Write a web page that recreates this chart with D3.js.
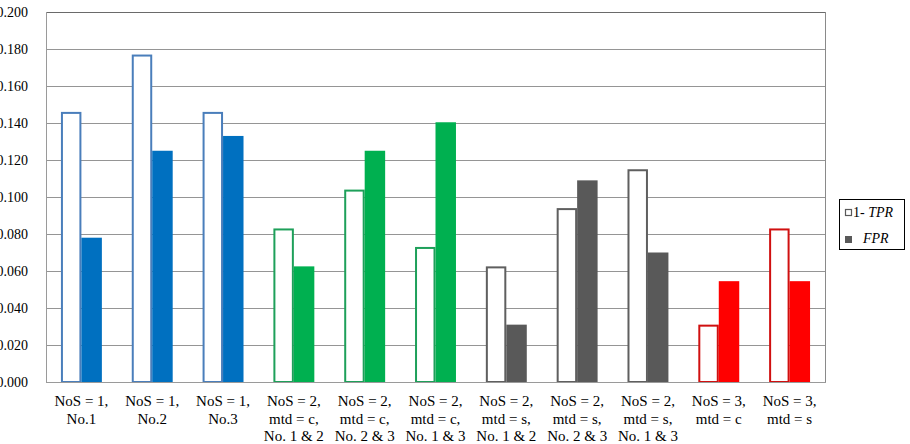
<!DOCTYPE html>
<html><head><meta charset="utf-8">
<script src="https://cdn.jsdelivr.net/npm/d3@7"></script>
<style>body{margin:0;background:#fff;} svg{display:block;} svg text{font-family:"Liberation Serif","DejaVu Serif",serif;}</style>
</head><body>
<svg id="chart" width="910" height="444"></svg>
<script>
const categories = [
  ["NoS = 1,", "No.1"],
  ["NoS = 1,", "No.2"],
  ["NoS = 1,", "No.3"],
  ["NoS = 2,", "mtd = c,", "No. 1 & 2"],
  ["NoS = 2,", "mtd = c,", "No. 2 & 3"],
  ["NoS = 2,", "mtd = c,", "No. 1 & 3"],
  ["NoS = 2,", "mtd = s,", "No. 1 & 2"],
  ["NoS = 2,", "mtd = s,", "No. 2 & 3"],
  ["NoS = 2,", "mtd = s,", "No. 1 & 3"],
  ["NoS = 3,", "mtd = c"],
  ["NoS = 3,", "mtd = s"]
];
const oneMinusTPR = [0.146, 0.177, 0.146, 0.083, 0.104, 0.073, 0.0625, 0.094, 0.115, 0.031, 0.083];
const FPR = [0.078, 0.125, 0.133, 0.0625, 0.125, 0.1404, 0.031, 0.109, 0.070, 0.0545, 0.0545];
const groupColors = ["#0070C0","#0070C0","#0070C0","#00B050","#00B050","#00B050","#595959","#595959","#595959","#FF0000","#FF0000"];
const outlineColors = ["#4A7EBB","#4A7EBB","#4A7EBB","#1EA05A","#1EA05A","#1EA05A","#5F5F5F","#5F5F5F","#5F5F5F","#D01010","#D01010"];
const yTicks = [0, 0.02, 0.04, 0.06, 0.08, 0.10, 0.12, 0.14, 0.16, 0.18, 0.20];
const seriesNames = ["1-TPR", "FPR"];

(function () {
const svg = d3.select("#chart");
const pL = 46, pR = 825, pT = 12, pB = 382;
const idx = d3.range(categories.length);
const x0 = d3.scaleBand().domain(idx).range([pL, pR]).padding(0);
const x1 = d3.scaleBand().domain(seriesNames).range([0, x0.bandwidth()]).paddingInner(0).paddingOuter(0.73);
const y = d3.scaleLinear().domain([0, 0.2]).range([pB, pT]);

// gridlines
svg.append("g").selectAll("line").data(yTicks.filter(d => d > 0)).join("line")
  .attr("x1", pL).attr("x2", pR)
  .attr("y1", d => Math.round(y(d)) + 0.5).attr("y2", d => Math.round(y(d)) + 0.5)
  .attr("stroke", d => d === 0.2 ? "#6a6a6a" : "#959595").attr("stroke-width", 1);

// frame
svg.append("line").attr("x1", pL + 0.5).attr("x2", pL + 0.5).attr("y1", pT).attr("y2", pB + 0.5).attr("stroke", "#9a9a9a");
svg.append("line").attr("x1", pR + 0.5).attr("x2", pR + 0.5).attr("y1", pT).attr("y2", pB + 0.5).attr("stroke", "#8a8a8a");

// y axis labels
const yAxis = d3.axisLeft(y).tickValues(yTicks).tickFormat(d3.format(".3f")).tickSize(0).tickPadding(18);
const ya = svg.append("g").attr("transform", `translate(${pL},0)`).call(yAxis);
ya.attr("font-family", null).attr("font-size", null);
ya.select(".domain").remove();
ya.selectAll("text").attr("font-size", 14).attr("fill", "#000");

// bars
const g = svg.append("g");
idx.forEach(i => {
  const gx = x0(i);
  const w = x1.bandwidth();
  g.append("rect")
    .attr("x", gx + x1("1-TPR") + 1).attr("y", y(oneMinusTPR[i]) + 1)
    .attr("width", w - 2).attr("height", y(0) - y(oneMinusTPR[i]) - 1)
    .attr("fill", "#fff").attr("stroke", outlineColors[i]).attr("stroke-width", 2);
  g.append("rect")
    .attr("x", gx + x1("FPR")).attr("y", y(FPR[i]))
    .attr("width", w).attr("height", y(0) - y(FPR[i]))
    .attr("fill", groupColors[i]);
});

// bottom axis line
svg.append("line").attr("x1", pL).attr("x2", pR + 1).attr("y1", pB + 0.5).attr("y2", pB + 0.5).attr("stroke", "#9a9a9a");

// x labels
const xl = svg.append("g").attr("font-size", 15).attr("fill", "#000").attr("text-anchor", "middle");
idx.forEach(i => {
  const cx = x0(i) + x0.bandwidth() / 2;
  categories[i].forEach((line, k) => {
    xl.append("text").attr("x", cx).attr("y", 406 + k * 17.5).text(line);
  });
});

// legend
const lg = svg.append("g").attr("font-size", 14).attr("fill", "#000");
lg.append("rect").attr("x", 839.5).attr("y", 199.5).attr("width", 65).attr("height", 50).attr("fill", "#fff").attr("stroke", "#000").attr("stroke-width", 1);
lg.append("rect").attr("x", 845.5).attr("y", 209.5).attr("width", 6).attr("height", 6).attr("fill", "#fff").attr("stroke", "#595959").attr("stroke-width", 1.2);
const t1 = lg.append("text").attr("x", 853).attr("y", 217);
t1.append("tspan").text("1- ");
t1.append("tspan").attr("font-style", "italic").text("TPR");
lg.append("rect").attr("x", 845).attr("y", 236).attr("width", 7).attr("height", 7).attr("fill", "#595959");
lg.append("text").attr("x", 863).attr("y", 243).attr("font-style", "italic").text("FPR");
})();
</script>
</body></html>
